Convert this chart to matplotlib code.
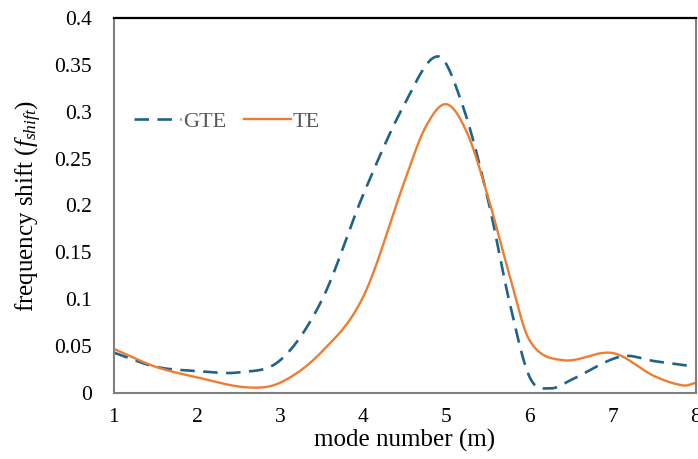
import matplotlib
matplotlib.use('Agg')
import matplotlib.pyplot as plt
import numpy as np

# values (mode number, frequency shift)
gte_x = [1.0, 1.5, 2.0, 2.5, 3.0, 3.5, 4.0, 4.5, 4.9, 5.2, 5.5, 5.75, 6.0, 6.25, 6.5, 7.1, 7.5, 8.0]
gte_y = [0.043, 0.028, 0.0234, 0.022, 0.035, 0.099, 0.212, 0.309, 0.359, 0.305, 0.206, 0.100, 0.017, 0.005, 0.014, 0.039, 0.034, 0.028]

te_x = [1.0, 1.5, 2.0, 2.6, 3.0, 3.5, 4.0, 4.5, 4.75, 5.0, 5.25, 5.5, 5.75, 6.0, 6.4, 7.0, 7.5, 7.85, 8.0]
te_y = [0.047, 0.028, 0.0167, 0.006, 0.011, 0.044, 0.103, 0.227, 0.284, 0.308, 0.277, 0.209, 0.128, 0.056, 0.035, 0.0426, 0.018, 0.008, 0.011]

x_ticks = [1, 2, 3, 4, 5, 6, 7, 8]
y_ticks = [0, 0.05, 0.1, 0.15, 0.2, 0.25, 0.3, 0.35, 0.4]


# smooth line through the points, like the spreadsheet "smoothed line" option
def smooth(x, y, n=40):
    x = np.asarray(x, float)
    y = np.asarray(y, float)
    m = np.zeros_like(y)
    m[1:-1] = (y[2:] - y[:-2]) / (x[2:] - x[:-2])
    m[0] = (y[1] - y[0]) / (x[1] - x[0])
    m[-1] = (y[-1] - y[-2]) / (x[-1] - x[-2])
    xs, ys = [], []
    for i in range(len(x) - 1):
        h = x[i + 1] - x[i]
        t = np.linspace(0, 1, n, endpoint=False)
        h00 = 2 * t**3 - 3 * t**2 + 1
        h10 = t**3 - 2 * t**2 + t
        h01 = -2 * t**3 + 3 * t**2
        h11 = t**3 - t**2
        xs.append(x[i] + t * h)
        ys.append(h00 * y[i] + h10 * h * m[i] + h01 * y[i + 1] + h11 * h * m[i + 1])
    xs.append([x[-1]])
    ys.append([y[-1]])
    return np.concatenate(xs), np.concatenate(ys)


plt.rcParams['font.family'] = ['Liberation Serif', 'DejaVu Serif']
plt.rcParams['mathtext.fontset'] = 'custom'
plt.rcParams['mathtext.rm'] = 'Liberation Serif'
plt.rcParams['mathtext.it'] = 'Liberation Serif:italic'

fig = plt.figure(figsize=(6.98, 4.59), dpi=100)
ax = fig.add_axes([0.1633, 0.1438, 0.8337, 0.817])

gx, gy = smooth(gte_x, gte_y)
tx, ty = smooth(te_x, te_y)
ax.plot(gx, gy, color='#1f6389', lw=1.9, dashes=(5.5, 3.2), label='GTE')
ax.plot(tx, ty, color='#ed7d31', lw=1.7, label='TE')

ax.set_xlim(1, 8)
ax.set_ylim(0, 0.4)
ax.set_xticks(x_ticks)
ax.set_xticklabels([str(v) for v in x_ticks])
ax.set_yticks(y_ticks)
ax.set_yticklabels(['0', '0.05', '0.1', '0.15', '0.2', '0.25', '0.3', '0.35', '0.4'])
ax.tick_params(axis='both', length=0, labelsize=15.5)
ax.tick_params(axis='x', pad=11)
ax.tick_params(axis='y', pad=16)

for s in ['left', 'bottom', 'right']:
    ax.spines[s].set_color('#808080')
    ax.spines[s].set_linewidth(1.5)
ax.spines['top'].set_color('black')
ax.spines['top'].set_linewidth(1.6)

ax.set_xlabel('mode number (m)', fontsize=18, labelpad=1)
ax.set_ylabel(r'frequency shift ($f_{shift}$)', fontsize=18, labelpad=7)

leg = ax.legend(loc='upper left', bbox_to_anchor=(0.0, 0.805), ncol=2, frameon=False,
                fontsize=16, handlelength=2.1, handletextpad=0.1, columnspacing=0.8)
for t in leg.get_texts():
    t.set_color('#595959')

plt.savefig('out.png', dpi=100)
